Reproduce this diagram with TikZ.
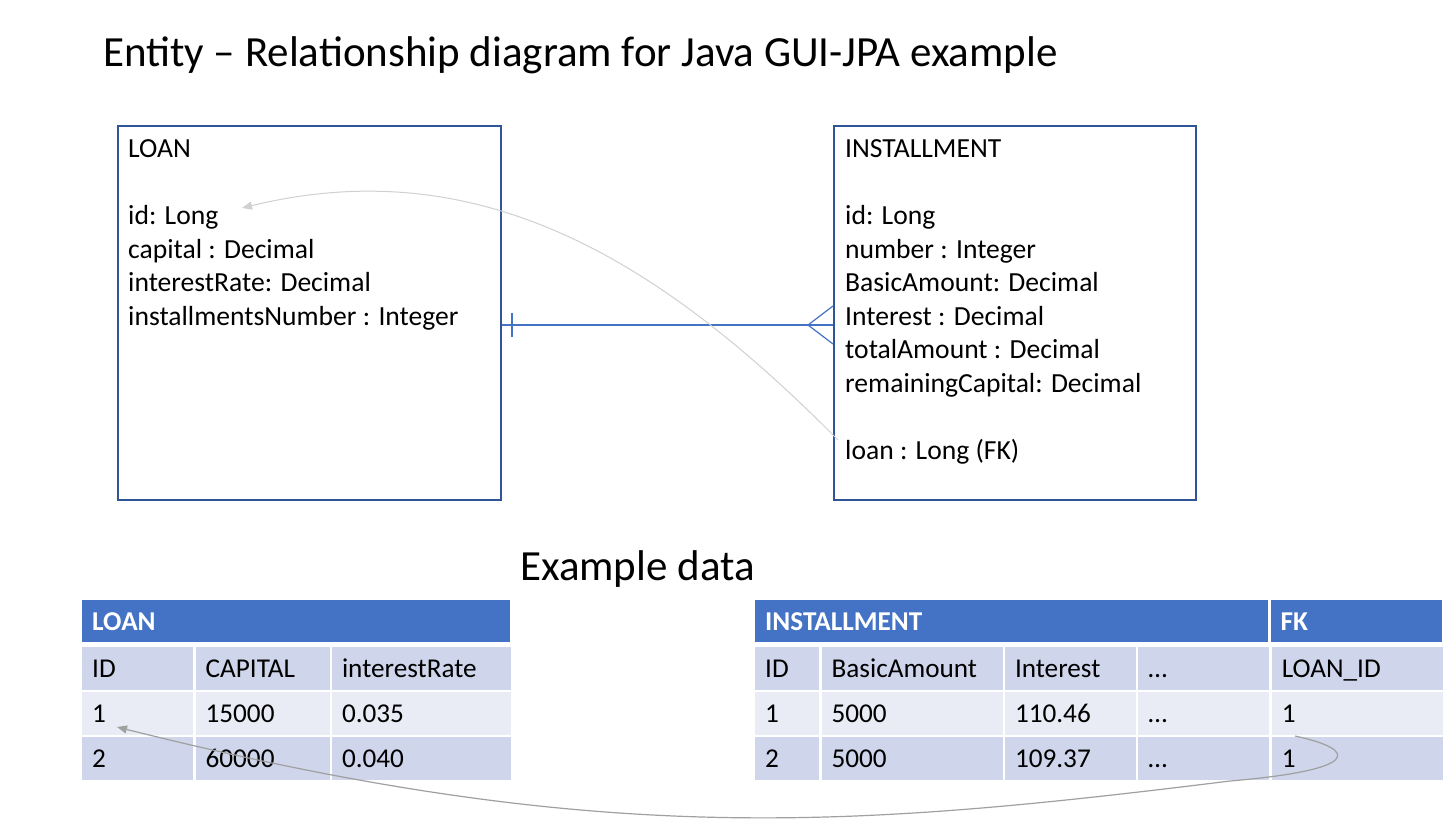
\documentclass[tikz,border=0pt]{standalone}
\usepackage{fontspec}
\setmainfont{Carlito}
\usetikzlibrary{positioning,arrows.meta}
\definecolor{accent}{HTML}{4472C4}
\definecolor{boxblue}{HTML}{2F5597}
\definecolor{rowdark}{HTML}{CFD5EA}
\definecolor{rowlight}{HTML}{E9EBF5}
\definecolor{linkgray}{HTML}{D0D0D0}
\definecolor{fkgray}{HTML}{A0A0A0}
\tikzset{
    entity/.style={draw=boxblue, line width=2pt, minimum width=383pt, minimum height=374pt, anchor=north west},
    attrs/.style={anchor=north west, inner sep=0pt, align=left, font=\fontsize{27.6}{33.5}\selectfont},
    cell/.style={text width=#1, inner xsep=10pt, inner ysep=0pt, minimum height=43pt, align=left,
        text height=19pt, text depth=1pt, font=\fontsize{27.2}{32}\selectfont},
    hdr/.style={cell=#1, minimum height=42pt, fill=accent, text=white, font=\fontsize{27.2}{32}\selectfont\bfseries},
    dark/.style={cell=#1, fill=rowdark},
    light/.style={cell=#1, fill=rowlight},
    rel/.style={draw=accent, line width=1.2pt},
    link/.style={draw=linkgray, line width=1pt, -{Triangle[length=10pt,width=8pt]}},
    fklink/.style={draw=fkgray, line width=1.2pt, -{Triangle[length=10pt,width=8pt]}}
}
\begin{document}
\begin{tikzpicture}[x=1pt, y=-1pt]
    \useasboundingbox[fill=white] (0,0) rectangle (1456,825);
    \node[anchor=base west, inner sep=0pt, font=\fontsize{43}{50}\selectfont] (title) at (103,66)
        {Entity -- Relationship diagram for Java GUI-JPA example};

    \node[entity] (lbox) at (117,125) {};
    \node[entity, minimum width=362pt] (ibox) at (833,125) {};
    \node[attrs, below right=14.5pt and 11pt of lbox.north west] (lattrs) {
        LOAN\\ \\
        id: Long\\
        capital : Decimal\\
        interestRate: Decimal\\
        installmentsNumber : Integer};
    \node[attrs, below right=14.5pt and 12pt of ibox.north west] (iattrs) {
        INSTALLMENT\\ \\
        id: Long\\
        number : Integer\\
        BasicAmount: Decimal\\
        Interest : Decimal\\
        totalAmount : Decimal\\
        remainingCapital: Decimal\\ \\
        loan : Long (FK)};

    \coordinate (one) at ([yshift=-12pt]lbox.east);
    \coordinate (many) at ([yshift=-12pt]ibox.west);
    \draw[rel] (one) -- (many);
    \draw[rel] ([xshift=10pt, yshift=12pt]one) -- ([xshift=10pt, yshift=-12pt]one);
    \draw[rel] ([yshift=19pt]many) -- ([xshift=-25pt]many) -- ([yshift=-19pt]many);

    \coordinate (fkfield) at (838,440);
    \coordinate (idfield) at (242,208);
    \draw[link] (fkfield) .. controls (660,260) and (480,150) .. (idfield);

    \node[anchor=base west, inner sep=0pt, font=\fontsize{43}{50}\selectfont] (extitle) at (520,580) {Example data};

    \node[hdr=408pt, anchor=north west] (lhead) at (82,600) {LOAN};
    \node[dark=91pt, below right=4pt and 0pt of lhead.south west] (lid) {ID};
    \node[dark=114pt, right=2pt of lid] (lcap) {CAPITAL};
    \node[dark=159pt, right=2pt of lcap] (lrate) {interestRate};
    \node[light=91pt, below right=2pt and 0pt of lid.south west] (lidone) {1};
    \node[light=114pt, right=2pt of lidone] (lcapone) {15000};
    \node[light=159pt, right=2pt of lcapone] (lrateone) {0.035};
    \node[dark=91pt, below right=2pt and 0pt of lidone.south west] (lidtwo) {2};
    \node[dark=114pt, right=2pt of lidtwo] (lcaptwo) {60000};
    \node[dark=159pt, right=2pt of lcaptwo] (lratetwo) {0.040};

    \node[hdr=493pt, anchor=north west] (ihead) at (755,600) {INSTALLMENT};
    \node[hdr=151pt, right=2pt of ihead] (fkhead) {FK};
    \node[dark=44pt, below right=4pt and 0pt of ihead.south west] (iid) {ID};
    \node[dark=161pt, right=2pt of iid] (ibasic) {BasicAmount};
    \node[dark=111pt, right=2pt of ibasic] (iint) {Interest};
    \node[dark=111pt, right=2pt of iint] (idots) {…};
    \node[dark=151pt, right=2pt of idots] (iloan) {LOAN\_ID};
    \node[light=44pt, below right=2pt and 0pt of iid.south west] (iidone) {1};
    \node[light=161pt, right=2pt of iidone] (ibasicone) {5000};
    \node[light=111pt, right=2pt of ibasicone] (iintone) {110.46};
    \node[light=111pt, right=2pt of iintone] (idotsone) {…};
    \node[light=151pt, right=2pt of idotsone] (iloanone) {1};
    \node[dark=44pt, below right=2pt and 0pt of iidone.south west] (iidtwo) {2};
    \node[dark=161pt, right=2pt of iidtwo] (ibasictwo) {5000};
    \node[dark=111pt, right=2pt of ibasictwo] (iinttwo) {109.37};
    \node[dark=111pt, right=2pt of iinttwo] (idotstwo) {…};
    \node[dark=151pt, right=2pt of idotstwo] (iloantwo) {1};

    \coordinate (fkvalue) at (1295,736);
    \coordinate (fkbend) at (1230,781);
    \coordinate (idvalue) at (117,727);
    \draw[fklink] (fkvalue) .. controls (1360,750) and (1360,770) .. (fkbend)
        .. controls (850,828) and (600,848) .. (idvalue);
\end{tikzpicture}
\end{document}
